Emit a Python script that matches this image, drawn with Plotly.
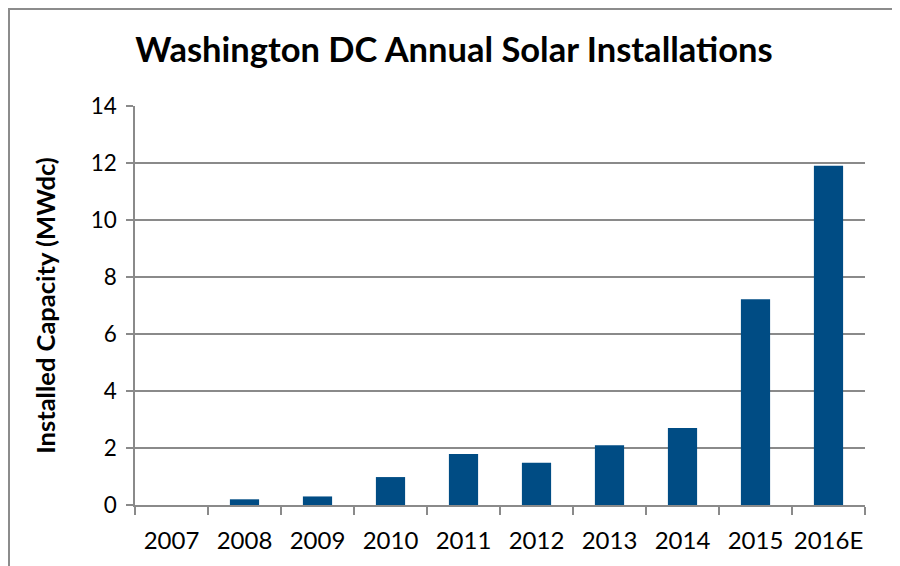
import plotly.graph_objects as go

years = ["2007", "2008", "2009", "2010", "2011", "2012", "2013", "2014", "2015", "2016E"]
capacity = [0.0, 0.2, 0.3, 0.98, 1.79, 1.48, 2.1, 2.7, 7.22, 11.9]

title_text = "Washington DC Annual Solar Installations"
y_title = "Installed Capacity (MWdc)"

bar_color = "#004C84"
grid_color = "#8A8A8A"

fig = go.Figure(go.Bar(x=years, y=capacity, marker=dict(color=bar_color, line=dict(width=0))))

# page has an 8px body margin; figure pixel coords = screen coords - 8
OFF = 8
W, H = 900 - OFF, 566 - OFF
L, T = 135 - OFF, 106 - OFF
pw, ph = 730, 399
R = W - L - pw
B = H - T - ph

def px_to_paper_x(px):
    return (px - OFF - L) / pw

def px_to_paper_y(py):
    return (T + ph - (py - OFF)) / ph

fig.update_layout(
    width=W, height=H,
    margin=dict(l=L, r=R, t=T, b=B, autoexpand=False),
    paper_bgcolor="white", plot_bgcolor="white",
    bargap=0.6,
    showlegend=False,
    font=dict(family="Lato", color="black"),
    title=dict(text="<b>" + title_text + "</b>", x=0.5, xanchor="center",
               y=1 - (50 - OFF) / H, yanchor="middle", font=dict(size=34.5, family="Lato", color="black")),
    xaxis=dict(
        type="category", showgrid=False, showline=True, linecolor=grid_color, linewidth=1.5,
        ticks="outside", tickson="boundaries", ticklen=8, tickcolor=grid_color, tickwidth=1.5,
        tickangle=0, automargin=False,
        tickfont=dict(size=24, family="Lato"), ticklabelstandoff=13, fixedrange=True,
    ),
    yaxis=dict(
        range=[0, 14], tickvals=[0, 2, 4, 6, 8, 10, 12, 14],
        showgrid=True, gridcolor=grid_color, gridwidth=1.5,
        showline=True, linecolor=grid_color, linewidth=1.5,
        ticks="outside", ticklen=7, tickcolor=grid_color, tickwidth=1.5, automargin=False,
        tickfont=dict(size=22.5, family="Lato"), ticklabelstandoff=5, zeroline=False,
        title=dict(text="<b>" + y_title + "</b>", font=dict(size=25.5, family="Lato"), standoff=28),
    ),
    shapes=[dict(
        type="rect", xref="paper", yref="paper",
        x0=px_to_paper_x(OFF + 1), x1=px_to_paper_x(893),
        y0=px_to_paper_y(620), y1=px_to_paper_y(OFF + 1),
        line=dict(color="#8C8C8C", width=2), fillcolor="rgba(0,0,0,0)", layer="below",
    )],
)

fig.write_html("out.html")
